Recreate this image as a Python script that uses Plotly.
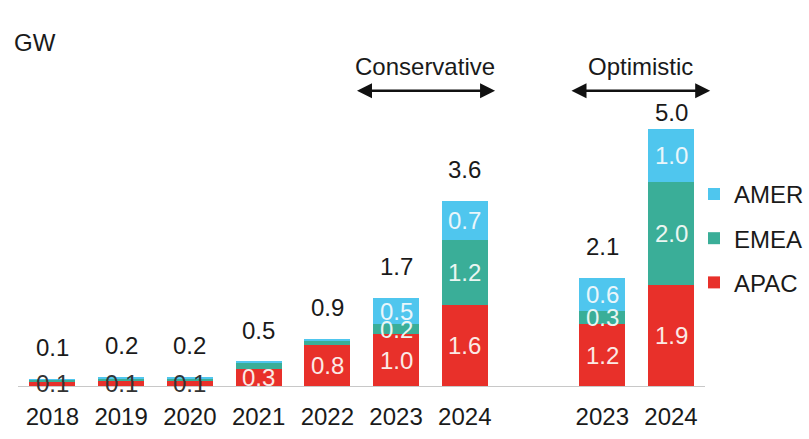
import plotly.graph_objects as go

# ---- data ----
x_pos = [0, 1, 2, 3, 4, 5, 6, 8, 9]
x_labels = ["2018", "2019", "2020", "2021", "2022", "2023", "2024", "2023", "2024"]
apac = [0.08, 0.10, 0.10, 0.33, 0.80, 1.0, 1.57, 1.2, 1.95]
emea = [0.04, 0.05, 0.05, 0.12, 0.07, 0.2, 1.26, 0.25, 2.0]
amer = [0.01, 0.02, 0.03, 0.02, 0.05, 0.5, 0.76, 0.65, 1.03]
totals_text = ["0.1", "0.2", "0.2", "0.5", "0.9", "1.7", "3.6", "2.1", "5.0"]
apac_text = ["0.1", "0.1", "0.1", "0.3", "0.8", "1.0", "1.6", "1.2", "1.9"]
emea_text = ["", "", "", "", "", "0.2", "1.2", "0.3", "2.0"]
amer_text = ["", "", "", "", "", "0.5", "0.7", "0.6", "1.0"]
scenario_labels = ["Conservative", "Optimistic"]
scenario_spans = [(4.41, 6.44), (7.53, 9.57)]

C_APAC = "#E8302A"
C_EMEA = "#3AAE98"
C_AMER = "#4FC6EE"
FONT = "Liberation Sans, Arial, sans-serif"
FS = 24

W, H = 809, 439
ML, MR, MT, MB = 18, 0, 20, 53
PW = W - ML - MR
PLOT_RIGHT = 708

fig = go.Figure()
for rank, (name, vals, col) in enumerate([("APAC", apac, C_APAC), ("EMEA", emea, C_EMEA), ("AMER", amer, C_AMER)]):
    fig.add_trace(go.Bar(x=x_pos, y=vals, name=name, marker=dict(color=col, line=dict(width=0)),
                         width=0.67, legendgroup=name, legendrank=3 - rank, hoverinfo="skip"))

ann = []
for i, xp in enumerate(x_pos):
    tot = apac[i] + emea[i] + amer[i]
    ann.append(dict(x=xp, y=tot, text=totals_text[i], showarrow=False, yanchor="bottom",
                    yshift=(1 if i == 8 else 16), font=dict(size=FS, color="#1a1a1a", family=FONT)))
    small = apac[i] < 0.2
    ann.append(dict(x=xp, y=apac[i] / 2, text=apac_text[i], showarrow=False,
                    font=dict(size=FS, color=("#333333" if small else "#FBEAE6"), family=FONT)))
    if emea_text[i]:
        ann.append(dict(x=xp, y=apac[i] + emea[i] / 2, text=emea_text[i], showarrow=False,
                        font=dict(size=FS, color="#EAF6F2", family=FONT)))
    if amer_text[i]:
        ann.append(dict(x=xp, y=apac[i] + emea[i] + amer[i] / 2, text=amer_text[i], showarrow=False,
                        font=dict(size=FS, color="#EAF6FB", family=FONT)))

for lab, (a, b) in zip(scenario_labels, scenario_spans):
    ay = 5.72
    ann.append(dict(x=b, y=ay, ax=a, ay=ay, xref="x", yref="y", axref="x", ayref="y", text="",
                    showarrow=True, arrowhead=2, arrowsize=1.2, arrowwidth=2.5, arrowside="end+start",
                    startarrowhead=2, startarrowsize=1.2, arrowcolor="#111111"))
    ann.append(dict(x=(a + b) / 2, y=ay, text=lab, showarrow=False, yanchor="bottom", yshift=9,
                    font=dict(size=FS, color="#1a1a1a", family=FONT)))

ann.append(dict(x=(12 - ML) / PW, y=1 - (43 - MT) / (H - MT - MB), xref="paper", yref="paper", text="GW",
                showarrow=False, xanchor="left", yanchor="middle",
                font=dict(size=FS, color="#1a1a1a", family=FONT)))

fig.update_layout(
    width=W, height=H,
    margin=dict(l=ML, r=MR, t=MT, b=MB),
    barmode="stack",
    plot_bgcolor="white", paper_bgcolor="white",
    font=dict(family=FONT, size=FS, color="#1a1a1a"),
    showlegend=True,
    legend=dict(x=(697 - ML) / PW, xanchor="left", y=0.585, yanchor="top", traceorder="grouped",
                tracegroupgap=10, font=dict(size=FS, color="#1a1a1a", family=FONT),
                itemwidth=30, bgcolor="rgba(0,0,0,0)"),
    xaxis=dict(range=[-0.5, 9.5], domain=[0, (PLOT_RIGHT - ML) / PW], tickvals=x_pos, ticktext=x_labels,
               showline=True, linecolor="#C8C8C8", linewidth=1, ticks="", showgrid=False, zeroline=False,
               ticklabelstandoff=9,
               tickfont=dict(size=FS, color="#1a1a1a", family=FONT)),
    yaxis=dict(range=[0, 7.09], visible=False, showgrid=False, zeroline=False),
    annotations=ann,
)

fig.write_html("out.html")
